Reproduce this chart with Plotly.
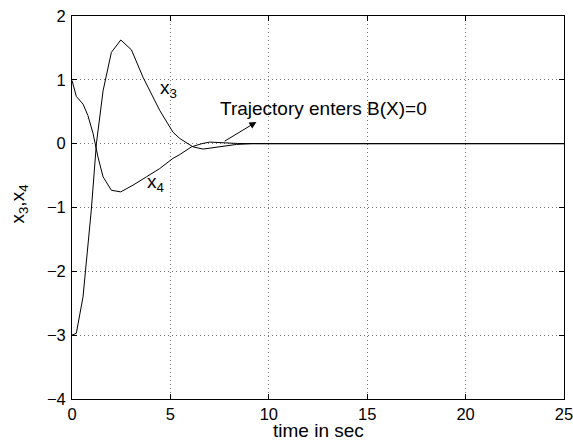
import plotly.graph_objects as go

# Data
t_x3 = [0, 0.22, 0.56, 0.98, 1.24, 1.58, 2.0, 2.48, 3.02, 3.61, 4.46, 5.13, 5.48, 6.15, 6.66, 7.5, 8.36, 9.2, 10, 25]
x3 = [-3.0, -2.97, -2.4, -1.04, 0.0, 0.83, 1.43, 1.625, 1.47, 1.04, 0.52, 0.18, 0.08, -0.05, -0.085, -0.05, -0.012, 0.0, 0.0, 0.0]

t_x4 = [0, 0.22, 0.56, 0.81, 1.07, 1.32, 1.58, 2.0, 2.48, 3.1, 3.78, 4.46, 5.13, 5.48, 6.07, 6.6, 7.0, 7.67, 8.4, 9.5, 25]
x4 = [0.99, 0.74, 0.62, 0.44, 0.16, -0.21, -0.52, -0.73, -0.755, -0.65, -0.52, -0.39, -0.23, -0.17, -0.05, 0.0, 0.025, 0.015, 0.003, 0.0, 0.0]

x_ticks = [0, 5, 10, 15, 20, 25]
y_ticks = [-4, -3, -2, -1, 0, 1, 2]

FONT = "Liberation Sans, Arial, Helvetica, sans-serif"

fig = go.Figure()
fig.add_trace(go.Scatter(x=t_x3, y=x3, mode="lines", line=dict(color="black", width=1), showlegend=False))
fig.add_trace(go.Scatter(x=t_x4, y=x4, mode="lines", line=dict(color="black", width=1), showlegend=False))

axis_common = dict(
    showline=True, linecolor="black", linewidth=1, mirror="ticks",
    ticks="inside", ticklen=5, tickcolor="black", tickwidth=1,
    showgrid=True, gridcolor="#777777", griddash="1px,3px", gridwidth=1,
    zeroline=False, automargin=False, ticklabeloverflow="allow",
    tickfont=dict(size=16.5, color="black", family=FONT),
)

fig.update_xaxes(range=[0, 25], tickvals=x_ticks, ticktext=[str(v) for v in x_ticks], **axis_common)
fig.update_yaxes(range=[-4, 2], tickvals=y_ticks,
                 ticktext=["\u2212" + str(-v) if v < 0 else str(v) for v in y_ticks],
                 ticklabelstandoff=2, **axis_common)

# axis titles
fig.add_annotation(xref="paper", yref="paper", x=0.5, y=-0.081, text="time in sec", showarrow=False,
                   xanchor="center", yanchor="middle", font=dict(size=19, color="black", family=FONT))
fig.add_annotation(xref="paper", yref="paper", x=-0.108, y=0.51, text="x<sub>3</sub>,x<sub>4</sub>",
                   showarrow=False, textangle=-90, xanchor="center", yanchor="middle",
                   font=dict(size=19, color="black", family=FONT))

fig.add_annotation(x=4.35, y=0.85, text="x<sub>3</sub>", showarrow=False, xanchor="left", yanchor="middle",
                   font=dict(size=19, color="black", family=FONT))
fig.add_annotation(x=3.7, y=-0.62, text="x<sub>4</sub>", showarrow=False, xanchor="left", yanchor="middle",
                   font=dict(size=19, color="black", family=FONT))
fig.add_annotation(x=7.41, y=0.55, text="Trajectory enters B(X)=0", showarrow=False, xanchor="left", yanchor="middle",
                   font=dict(size=19, color="black", family=FONT))
fig.add_annotation(x=9.37, y=0.34, ax=7.68, ay=0.025, axref="x", ayref="y", text="", showarrow=True,
                   arrowhead=2, arrowsize=1.4, arrowwidth=1, arrowcolor="black")

fig.update_layout(
    width=573, height=440,
    margin=dict(l=72, r=9, t=16, b=41),
    paper_bgcolor="white", plot_bgcolor="white",
    font=dict(family=FONT, color="black"),
)

# remove the default page margin so the figure fills the 573x440 window exactly
fig.write_html("out.html",
               config={"displayModeBar": False},
               post_script="document.body.style.margin='0';document.body.style.overflow='hidden';")
